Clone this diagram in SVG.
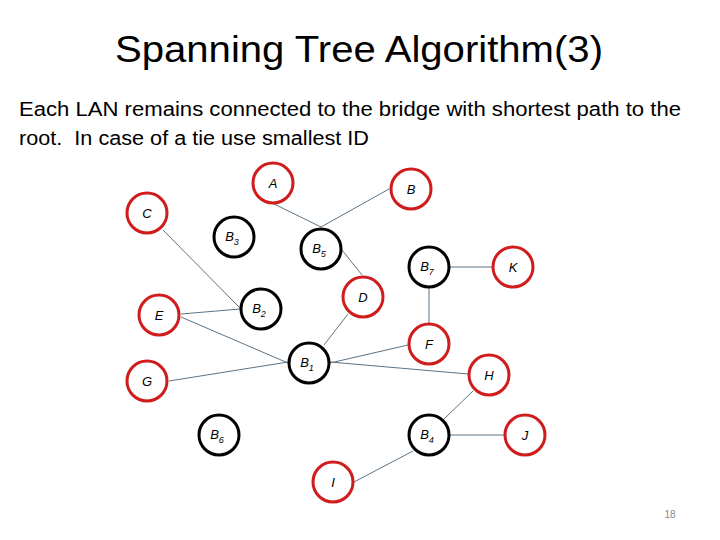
<svg xmlns="http://www.w3.org/2000/svg" width="720" height="540" viewBox="0 0 720 540">
<style>
.lan{fill:#fff;stroke:#d01c1c;stroke-width:3}
.br{fill:#fff;stroke:#000;stroke-width:3}
.lbl{font-family:"Liberation Sans",Arial,sans-serif;font-style:italic;font-size:13px;fill:#000;text-anchor:middle}
.sub{font-size:9px}
.e{stroke:#5b7488;stroke-width:1;fill:none}
.title{font-family:"Liberation Sans",Arial,sans-serif;font-size:36px;fill:#000;text-anchor:middle}
.body{font-family:"Liberation Sans",Arial,sans-serif;font-size:20px;fill:#000}
</style>
<rect width="720" height="540" fill="#fff"/>
<text class="title" x="359" y="62" textLength="488" lengthAdjust="spacingAndGlyphs">Spanning Tree Algorithm(3)</text>
<text class="body" x="19" y="116" textLength="662" lengthAdjust="spacingAndGlyphs">Each LAN remains connected to the bridge with shortest path to the</text>
<text class="body" x="19" y="145" textLength="350" lengthAdjust="spacingAndGlyphs">root.&#160; In case of a tie use smallest ID</text>
<g id="connectors">
<line class="e" x1="272" y1="203" x2="321" y2="227"/>
<line class="e" x1="389" y1="189" x2="321" y2="227"/>
<line class="e" x1="163" y1="230" x2="240" y2="308"/>
<line class="e" x1="181" y1="314" x2="240" y2="309"/>
<line class="e" x1="181" y1="317" x2="288" y2="363"/>
<line class="e" x1="342" y1="250" x2="362" y2="275"/>
<line class="e" x1="348" y1="314" x2="324" y2="345"/>
<line class="e" x1="450" y1="267" x2="492" y2="267"/>
<line class="e" x1="429" y1="288" x2="429" y2="323"/>
<line class="e" x1="408" y1="345" x2="330" y2="363"/>
<line class="e" x1="330" y1="362" x2="468" y2="374"/>
<line class="e" x1="169" y1="381" x2="288" y2="362"/>
<line class="e" x1="473" y1="391" x2="444" y2="419"/>
<line class="e" x1="450" y1="435" x2="504" y2="435"/>
<line class="e" x1="413" y1="451" x2="354" y2="482"/>
</g>
<g id="A"><circle class="lan" cx="273" cy="183" r="20"/><text class="lbl" x="273" y="188">A</text></g>
<g id="B"><circle class="lan" cx="411" cy="189" r="20"/><text class="lbl" x="411" y="194">B</text></g>
<g id="C"><circle class="lan" cx="147" cy="213" r="20"/><text class="lbl" x="147" y="218">C</text></g>
<g id="D"><circle class="lan" cx="363" cy="297" r="20"/><text class="lbl" x="363" y="302">D</text></g>
<g id="E"><circle class="lan" cx="159" cy="315" r="20"/><text class="lbl" x="159" y="320">E</text></g>
<g id="F"><circle class="lan" cx="429" cy="344" r="20"/><text class="lbl" x="429" y="349">F</text></g>
<g id="G"><circle class="lan" cx="147" cy="381" r="20"/><text class="lbl" x="147" y="386">G</text></g>
<g id="H"><circle class="lan" cx="489" cy="375" r="20"/><text class="lbl" x="489" y="380">H</text></g>
<g id="I"><circle class="lan" cx="333" cy="482" r="20"/><text class="lbl" x="333" y="487">I</text></g>
<g id="J"><circle class="lan" cx="525" cy="435" r="20"/><text class="lbl" x="525" y="440">J</text></g>
<g id="K"><circle class="lan" cx="513" cy="267" r="20"/><text class="lbl" x="513" y="272">K</text></g>
<g id="B3"><circle class="br" cx="234" cy="237" r="20"/><text class="lbl" x="232" y="241">B<tspan class="sub" dy="4">3</tspan></text></g>
<g id="B5"><circle class="br" cx="321" cy="249" r="20"/><text class="lbl" x="319" y="253">B<tspan class="sub" dy="4">5</tspan></text></g>
<g id="B7"><circle class="br" cx="429" cy="267" r="20"/><text class="lbl" x="427" y="271">B<tspan class="sub" dy="4">7</tspan></text></g>
<g id="B2"><circle class="br" cx="261" cy="309" r="20"/><text class="lbl" x="259" y="313">B<tspan class="sub" dy="4">2</tspan></text></g>
<g id="B1"><circle class="br" cx="309" cy="363" r="20"/><text class="lbl" x="307" y="367">B<tspan class="sub" dy="4">1</tspan></text></g>
<g id="B6"><circle class="br" cx="219" cy="435" r="20"/><text class="lbl" x="217" y="439">B<tspan class="sub" dy="4">6</tspan></text></g>
<g id="B4"><circle class="br" cx="429" cy="435" r="20"/><text class="lbl" x="427" y="439">B<tspan class="sub" dy="4">4</tspan></text></g>
<text x="670" y="518" font-family="Liberation Sans,Arial,sans-serif" font-size="10" fill="#888" text-anchor="middle">18</text>
</svg>
